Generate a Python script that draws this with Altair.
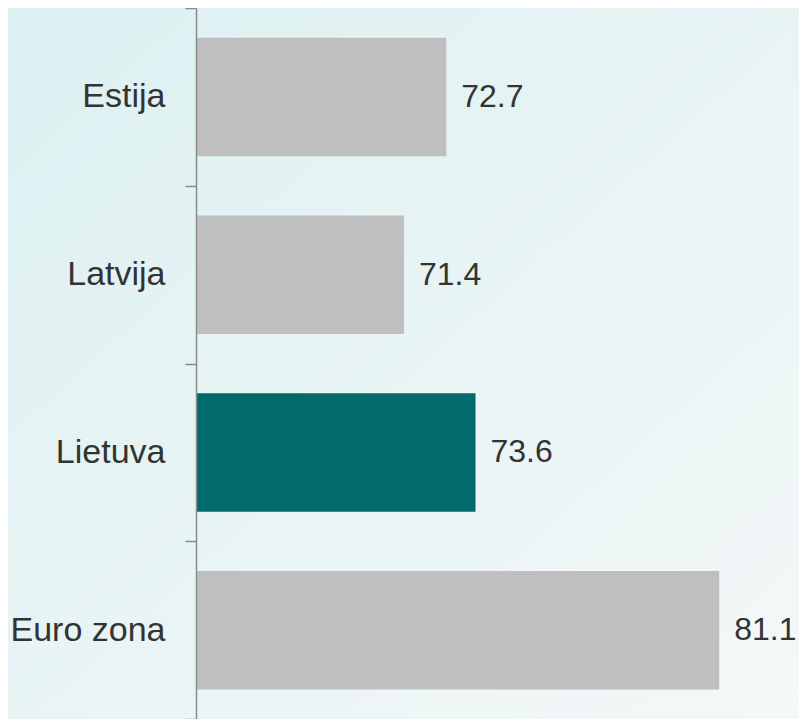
import altair as alt
import pandas as pd

countries = ["Estija", "Latvija", "Lietuva", "Euro zona"]
values = [72.7, 71.4, 73.6, 81.1]
highlight = ["other", "other", "Lietuva", "other"]
axis_start = 65
axis_end = 83

df = pd.DataFrame({"country": countries, "value": values, "group": highlight})

LEFT = 188
W = 585
H = 711
TOTAL_W = 791

gradient = alt.LinearGradient(
    gradient="linear",
    stops=[alt.GradientStop(color="#dcf0f1", offset=0),
           alt.GradientStop(color="#f4f8f8", offset=1)],
    x1=0, x2=1, y1=0, y2=1,
)

bg = alt.Chart(alt.Data(values=[{}])).mark_rect(fill=gradient).encode(
    x=alt.value(-LEFT), x2=alt.value(TOTAL_W - LEFT), y=alt.value(0), y2=alt.value(H)
)

y_enc = alt.Y(
    "country:N",
    sort=countries,
    scale=alt.Scale(paddingInner=0, paddingOuter=0),
    axis=alt.Axis(
        title=None,
        tickBand="extent",
        tickSize=11,
        labelPadding=20,
        labelFont="Liberation Sans",
        labelFontSize=34,
        labelColor="#333333",
        domainColor="#8a8a8a",
        tickColor="#8a8a8a",
        domainWidth=1.5,
        tickWidth=1.5,
        zindex=1,
    ),
)
x_enc = alt.X("value:Q", scale=alt.Scale(domain=[axis_start, axis_end], zero=False, nice=False), axis=None)

bars = alt.Chart(df).mark_bar(height={"band": 2 / 3}).encode(
    y=y_enc,
    x=x_enc,
    x2=alt.datum(axis_start),
    color=alt.Color(
        "group:N",
        scale=alt.Scale(domain=["other", "Lietuva"], range=["#bfbfbf", "#006b6a"]),
        legend=None,
    ),
)

labels = alt.Chart(df).mark_text(
    align="left", baseline="middle", dx=15, font="Liberation Sans", fontSize=32, color="#333333"
).encode(y=alt.Y("country:N", sort=countries), x=x_enc, text=alt.Text("value:Q", format=".1f"))

chart = alt.layer(bg, bars, labels).properties(
    width=W,
    height=H,
    autosize=alt.AutoSizeParams(type="none"),
    padding={"left": LEFT, "top": 0, "right": TOTAL_W - LEFT - W, "bottom": 0},
).configure_view(stroke=None).configure(background="#ffffff")

chart.save("out.html", embed_options={"renderer": "svg", "actions": False})
